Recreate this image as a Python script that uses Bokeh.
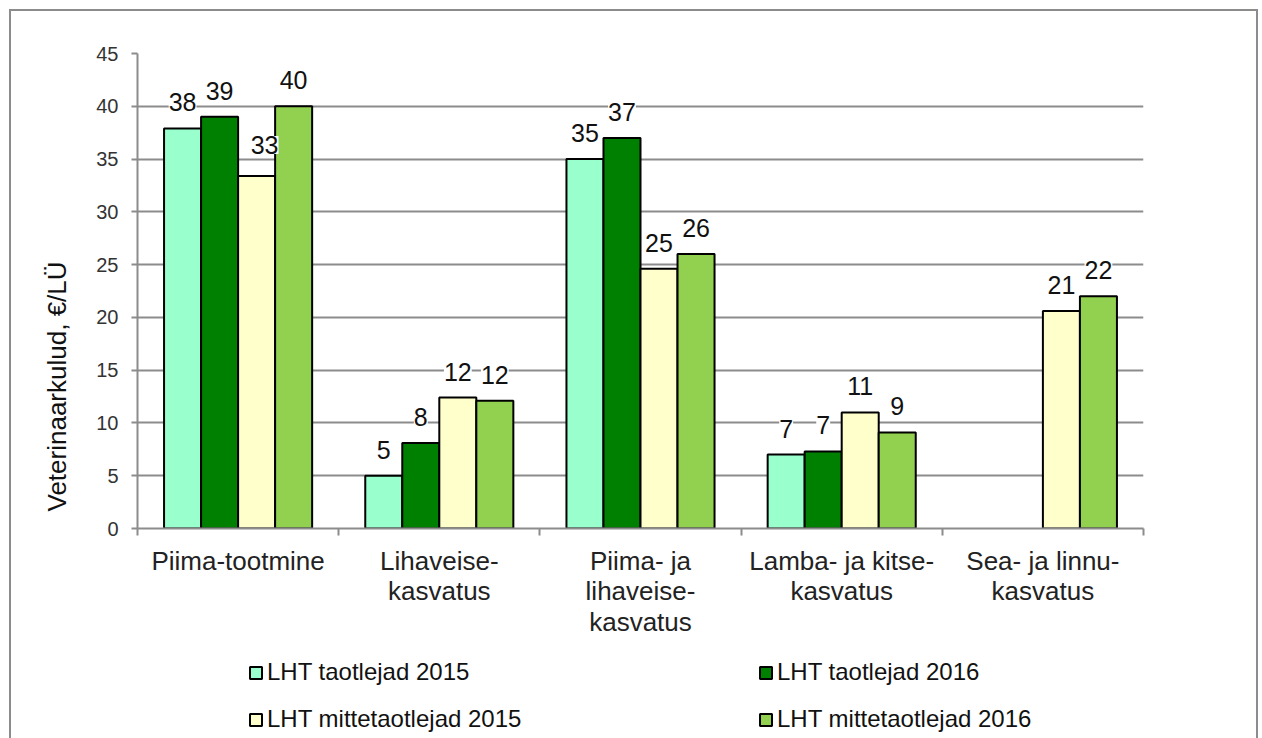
from bokeh.plotting import figure
from bokeh.layouts import column
from bokeh.models import (ColumnDataSource, Range1d, LinearAxis, FixedTicker, LabelSet,
                          Legend, LegendItem, Grid, Title)
from bokeh.embed import file_html
from bokeh.resources import INLINE
from bokeh.core.properties import value

# ---------------- data ----------------
categories = [
    "Piima-tootmine",
    "Lihaveise-\nkasvatus",
    "Piima- ja\nlihaveise-\nkasvatus",
    "Lamba- ja kitse-\nkasvatus",
    "Sea- ja linnu-\nkasvatus",
]
series_names = [
    "LHT taotlejad 2015",
    "LHT taotlejad 2016",
    "LHT mittetaotlejad 2015",
    "LHT mittetaotlejad 2016",
]
taotlejad_2015 = [37.9, 5.0, 35.0, 7.0, None]
taotlejad_2016 = [39.0, 8.1, 37.0, 7.3, None]
mittetaotlejad_2015 = [33.4, 12.4, 24.6, 11.0, 20.6]
mittetaotlejad_2016 = [40.0, 12.1, 26.0, 9.1, 22.0]
y_ticks = [0, 5, 10, 15, 20, 25, 30, 35, 40, 45]
y_title = "Veterinaarkulud, €/LÜ"

series_values = [taotlejad_2015, taotlejad_2016, mittetaotlejad_2015, mittetaotlejad_2016]

# ---------------- style ----------------
colors = ["#99ffcc", "#008000", "#ffffcc", "#92d050"]
FONT = "Liberation Sans"
GRID = "#8c8c8c"
bar_w = 0.184
offsets = [-0.276, -0.092, 0.092, 0.276]
# label nudges (screen px) for individual value labels: (series, category) -> (dx, dy)
nudges = {(2, 0): (8, 5)}

n = len(categories)
centers = [i + 0.5 for i in range(n)]
bounds = [float(i) for i in range(n + 1)]

W = 1245
p = figure(width=W, height=629,
           x_range=Range1d(0, n), y_range=Range1d(0, 45),
           output_backend="svg", toolbar_location=None,
           x_axis_location=None, y_axis_location=None,
           min_border_left=126, min_border_right=113,
           min_border_top=42, min_border_bottom=110)
p.outline_line_color = None
p.background_fill_color = "white"
p.border_fill_color = "white"

# remove default grids
for g in list(p.center):
    if isinstance(g, Grid):
        p.center.remove(g)

# y axis
yaxis = LinearAxis(ticker=FixedTicker(ticks=y_ticks),
                   axis_line_color=GRID, axis_line_width=2,
                   major_tick_line_color=GRID, major_tick_line_width=2,
                   major_tick_out=6, major_tick_in=0,
                   minor_tick_line_color=None,
                   major_label_standoff=13,
                   major_label_text_font=FONT,
                   major_label_text_font_size="20px",
                   major_label_text_color="#333333")
p.add_layout(yaxis, "left")

ytitle = Title(text=y_title, align="left", offset=17, standoff=43,
               text_font=FONT, text_font_size="26px", text_font_style="normal",
               text_color="#111111")
p.add_layout(ytitle, "left")

# x axis: labels at category centers, tick marks at category boundaries
xaxis = LinearAxis(ticker=FixedTicker(ticks=centers, minor_ticks=bounds),
                   major_label_overrides={c: lab for c, lab in zip(centers, categories)},
                   axis_line_color=GRID, axis_line_width=2,
                   major_tick_line_color=None, major_tick_out=0, major_tick_in=0,
                   minor_tick_line_color=GRID, minor_tick_line_width=2,
                   minor_tick_out=7, minor_tick_in=0,
                   major_label_standoff=10,
                   major_label_text_font=FONT,
                   major_label_text_font_size="26px",
                   major_label_text_line_height=1.03,
                   major_label_text_color="#222222")
p.add_layout(xaxis, "below")

p.add_layout(Grid(dimension=1, ticker=FixedTicker(ticks=y_ticks),
                  grid_line_color=GRID, grid_line_width=2))

# legend strip (separate figure below the chart, same series styles)
p2 = figure(width=W, height=98, x_range=Range1d(0, 1), y_range=Range1d(0, 1),
            output_backend="svg", toolbar_location=None,
            x_axis_location=None, y_axis_location=None,
            min_border_left=0, min_border_right=0, min_border_top=0, min_border_bottom=0)
p2.outline_line_color = None
p2.background_fill_color = "white"
p2.border_fill_color = "white"
for g in list(p2.center):
    if isinstance(g, Grid):
        p2.center.remove(g)

items = []
for j, (name, vals) in enumerate(zip(series_names, series_values)):
    xs, tops, labs, dxs, dys = [], [], [], [], []
    for i, v in enumerate(vals):
        if v is None:
            continue
        xs.append(centers[i] + offsets[j])
        tops.append(v)
        labs.append(f"{v:.0f}")
        dx, dy = nudges.get((j, i), (0, 0))
        dxs.append(dx)
        dys.append(26 + dy)
    src = ColumnDataSource(dict(x=xs, top=tops, label=labs, dx=dxs, dy=dys))
    p.vbar(x="x", top="top", width=bar_w, bottom=0, source=src,
           fill_color=colors[j], line_color="black", line_width=2)
    ls = LabelSet(x="x", y="top", text="label", source=src,
                  x_offset="dx", y_offset="dy",
                  text_align="center", text_baseline="middle",
                  text_font=value(FONT), text_font_size="25px",
                  text_color="#111111",
                  background_fill_color="white")
    p.add_layout(ls)
    # hidden swatch renderer in the legend strip (only its legend swatch is shown)
    r2 = p2.vbar(x=[0.5], top=[1], width=bar_w, bottom=0,
                 fill_color=colors[j], line_color="black", line_width=2)
    r2.visible = False
    items.append(LegendItem(label=name, renderers=[r2]))

legend = Legend(items=items, location=(111, 5),
                orientation="horizontal", ncols=2,
                glyph_width=15, glyph_height=15,
                label_standoff=4, label_width=472, label_height=26, spacing=19,
                padding=5, margin=0,
                label_text_font=FONT, label_text_font_size="24px",
                label_text_color="#111111",
                inactive_fill_alpha=0,
                border_line_color=None, background_fill_alpha=0)
p2.add_layout(legend, "center")

layout = column(p, p2, spacing=0,
                styles={"border": "2px solid #8c8c8c", "border-bottom": "none",
                        "margin-left": "9px", "margin-top": "9px",
                        "background-color": "white"})

open("out.html", "w").write(file_html(layout, INLINE))
